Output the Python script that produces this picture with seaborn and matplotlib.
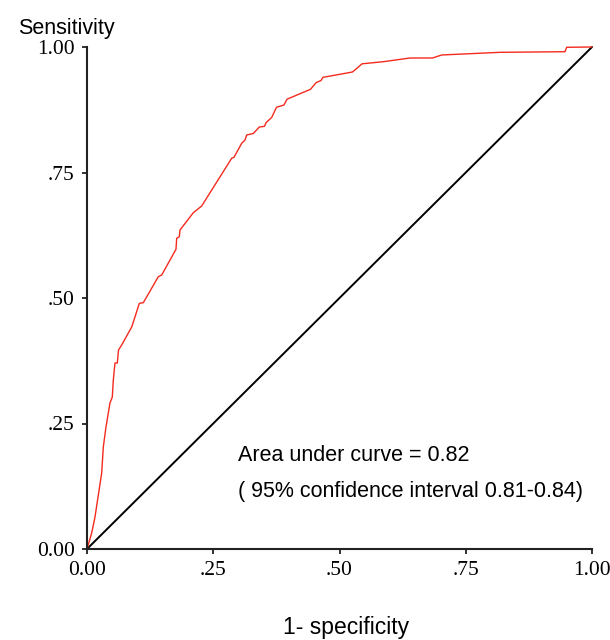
import matplotlib
matplotlib.use("Agg")
import matplotlib.pyplot as plt
import seaborn as sns
import pandas as pd

# ROC curve points (1 - specificity, sensitivity)
fpr = [0.0, 0.0093, 0.0158, 0.0291, 0.0323, 0.0376, 0.0455, 0.0501, 0.0521,
       0.0554, 0.0600, 0.0624, 0.0687, 0.0885, 0.0950, 0.1036, 0.1115, 0.1412,
       0.1479, 0.1762, 0.1776, 0.1828, 0.1842, 0.2105, 0.2271, 0.2865, 0.2911,
       0.3063, 0.3129, 0.3162, 0.3293, 0.3412, 0.3515, 0.3545, 0.3657, 0.3752,
       0.3901, 0.3960, 0.4426, 0.4535, 0.4634, 0.4673, 0.5257, 0.5386, 0.5446,
       0.5867, 0.6396, 0.6842, 0.7024, 0.8178, 0.9465, 0.9499, 1.0]
tpr = [0.0, 0.0319, 0.0637, 0.1514, 0.2032, 0.2430, 0.2908, 0.3028, 0.3367,
       0.3705, 0.3705, 0.3964, 0.4064, 0.4422, 0.4622, 0.4894, 0.4906, 0.5424,
       0.5458, 0.5970, 0.6189, 0.6221, 0.6355, 0.6699, 0.6833, 0.7783, 0.7803,
       0.8082, 0.8147, 0.8247, 0.8277, 0.8406, 0.8420, 0.8492, 0.8596, 0.8799,
       0.8845, 0.8960, 0.9157, 0.9289, 0.9333, 0.9396, 0.9502, 0.9612, 0.9665,
       0.9707, 0.9781, 0.9781, 0.9841, 0.9894, 0.9906, 0.9994, 1.0]

diag_x = [0.0, 1.0]
diag_y = [0.0, 1.0]

tick_values = [0.0, 0.25, 0.5, 0.75, 1.0]
tick_labels = ["0.00", ".25", ".50", ".75", "1.00"]

y_title = "Sensitivity"
x_title = "1- specificity"
auc_text = "Area under curve = 0.82"
ci_text = "( 95% confidence interval 0.81-0.84)"

sns.set_style("ticks")
plt.rcParams["font.family"] = ["Liberation Sans", "DejaVu Sans"]
plt.rcParams["text.color"] = "black"

fig = plt.figure(figsize=(6.1, 6.4), dpi=100)
ax = fig.add_axes([87/610, 91/640, 505/610, 502/640])

roc = pd.DataFrame({"fpr": fpr, "tpr": tpr})
diag = pd.DataFrame({"x": diag_x, "y": diag_y})

sns.lineplot(data=diag, x="x", y="y", ax=ax, color="black", linewidth=1.4,
             sort=False, estimator=None)
sns.lineplot(data=roc, x="fpr", y="tpr", ax=ax, color="#f42a1e", linewidth=1.0,
             sort=False, estimator=None)
for ln in ax.lines:
    ln.set_clip_on(False)

ax.set_xlim(0, 1)
ax.set_ylim(0, 1)
ax.set_xticks(tick_values)
ax.set_xticklabels(tick_labels)
ax.set_yticks(tick_values)
ax.set_yticklabels(tick_labels)
ax.set_xlabel("")
ax.set_ylabel("")

sns.despine(ax=ax)
for s in ["left", "bottom"]:
    ax.spines[s].set_linewidth(1.5)
    ax.spines[s].set_color("#222222")

ax.tick_params(axis="both", direction="out", length=3.8, width=1.3,
               color="#222222", labelcolor="black")
ax.tick_params(axis="x", pad=5)
ax.tick_params(axis="y", pad=5)
for lab in ax.get_xticklabels() + ax.get_yticklabels():
    lab.set_fontfamily(["Liberation Serif", "DejaVu Serif"])
    lab.set_fontsize(15.5)

ax.text(0.299, 0.175, auc_text, fontsize=15.5, ha="left", va="baseline",
        color="black", transform=ax.transData)
ax.text(0.299, 0.1036, ci_text, fontsize=15.5, ha="left", va="baseline",
        color="black", transform=ax.transData)

fig.text(66/610, 1 - 34/640, y_title, fontsize=15.5, ha="center",
         va="baseline", color="black")
fig.text(346/610, 1 - 634/640, x_title, fontsize=16.5, ha="center",
         va="baseline", color="black")

fig.savefig("out.png", dpi=100)
